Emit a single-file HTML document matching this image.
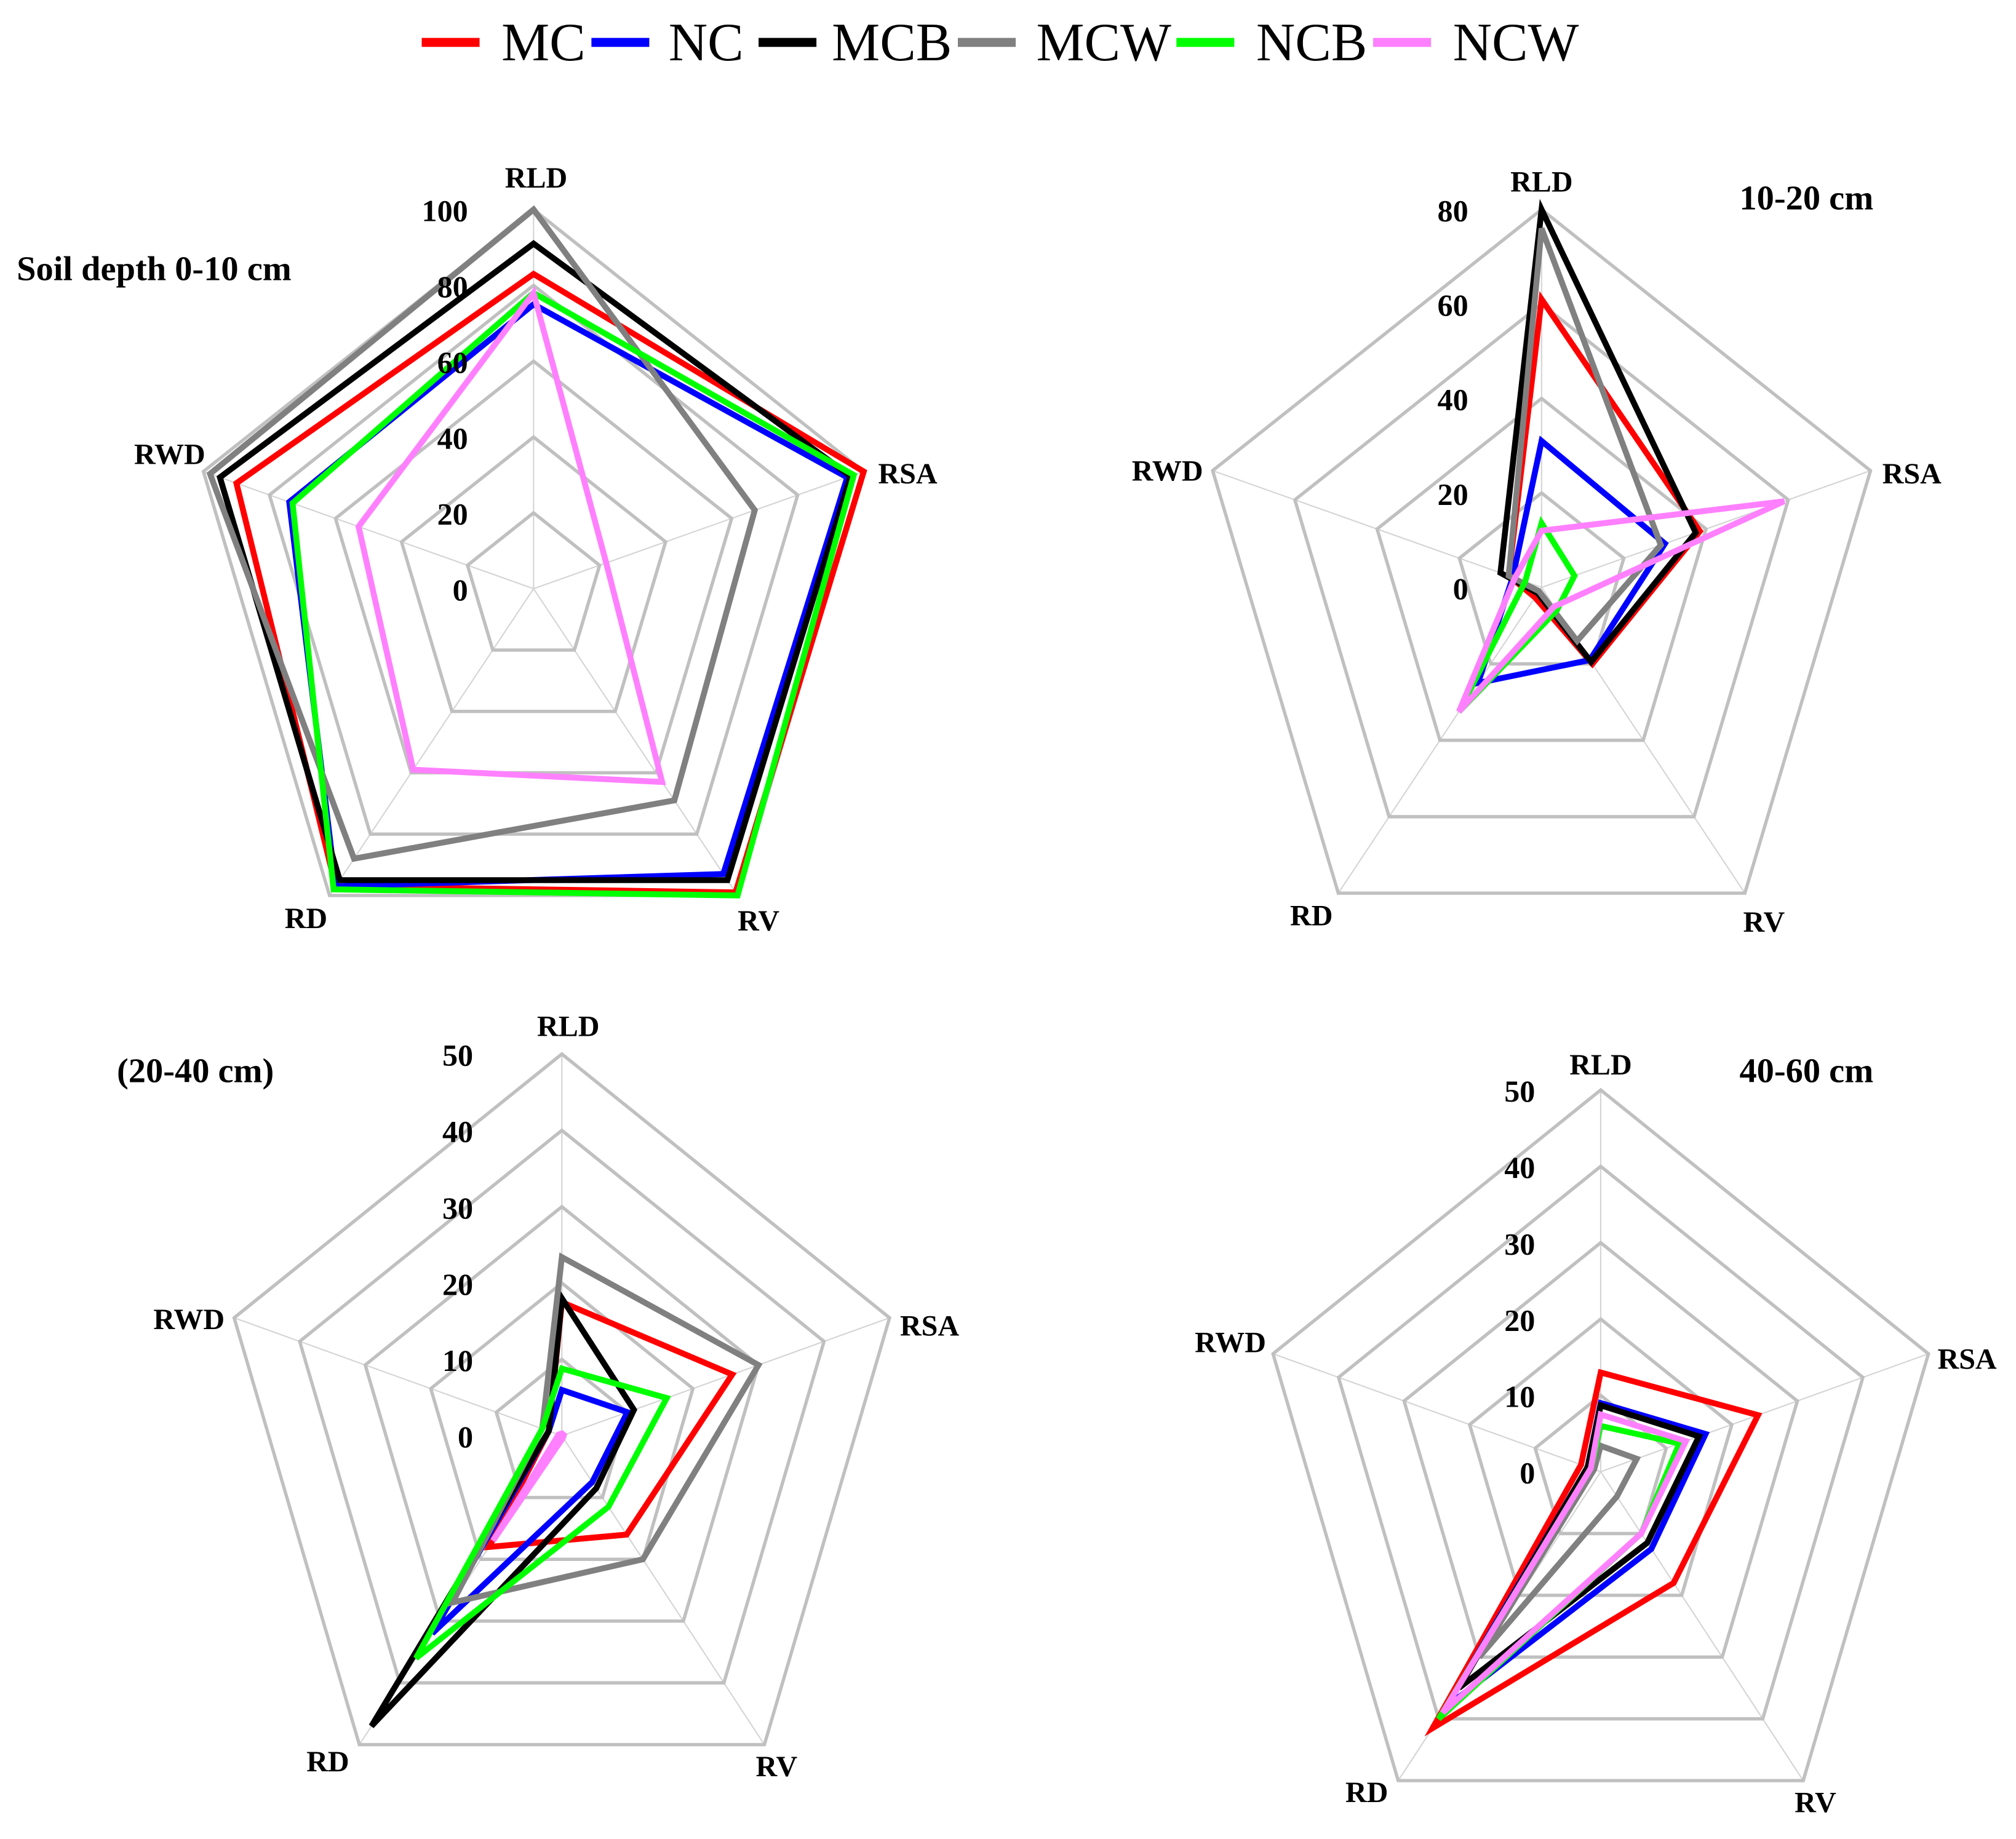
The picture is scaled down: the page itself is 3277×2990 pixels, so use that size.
<!DOCTYPE html>
<html><head><meta charset="utf-8">
<style>
html,body{margin:0;padding:0;background:#fff;}
svg{display:block;}
text{font-family:"Liberation Serif","Times New Roman",serif;}
</style></head>
<body>
<svg id="fig" width="3277" height="2990" viewBox="0 0 1568 1430.7" preserveAspectRatio="none" xmlns="http://www.w3.org/2000/svg">
<g id="legend"></g>
<g id="charts"></g>
</svg>
<script>
const axes = ["RLD","RSA","RV","RD","RWD"];
const seriesNames = ["MC","NC","MCB","MCW","NCB","NCW"];
const seriesColors = ["#ff0000","#0000ff","#000000","#808080","#00ff00","#ff80ff"];
// Soil depth 0-10 cm  (RLD, RSA, RV, RD, RWD)
const d1_MC  = [83, 100, 99, 97, 90];
const d1_NC  = [75, 95, 93, 97, 74];
const d1_MCB = [91, 96, 95, 95, 95];
const d1_MCW = [100, 67, 69, 88, 98];
const d1_NCB = [78, 97, 100, 98, 73];
const d1_NCW = [78, 22, 63, 59, 53];
// 10-20 cm
const d2_MC  = [61, 38.5, 20, 2.6, 8];
const d2_NC  = [31, 30, 19, 25, 7];
const d2_MCB = [80, 37.5, 19.5, 1.5, 10];
const d2_MCW = [76, 29, 14, 1, 8];
const d2_NCB = [13.6, 8, 6, 32.5, 4];
const d2_NCW = [12, 59, 5, 32.5, 6.5];
// 20-40 cm
const d3_MC  = [17.5, 26, 16, 18, 2];
const d3_NC  = [6, 10, 7.5, 32, 2];
const d3_MCB = [18, 11, 8.5, 47, 2];
const d3_MCW = [23.4, 30, 20, 27, 3];
const d3_NCB = [8.8, 16, 11.5, 36, 3];
const d3_NCW = [0.3, 0.3, 0.3, 17, 0.5];
// 40-60 cm
const d4_MC  = [13, 24, 18, 41.5, 3];
const d4_NC  = [9, 16, 12.5, 38, 2];
const d4_MCB = [8.7, 15, 11.5, 35, 2];
const d4_MCW = [3.4, 5.5, 4, 30, 1];
const d4_NCB = [6, 12, 10, 40, 1.5];
const d4_NCW = [7.5, 13, 10, 39, 1.5];
const ticks1 = ["0","20","40","60","80","100"];
const ticks2 = ["0","20","40","60","80"];
const ticks3 = ["0","10","20","30","40","50"];
const ticks4 = ["0","10","20","30","40","50"];

const NS = "http://www.w3.org/2000/svg";
function mk(tag, attrs, parent){ const e=document.createElementNS(NS,tag); for(const k in attrs) e.setAttribute(k,attrs[k]); if(parent) parent.appendChild(e); return e; }

const lg = document.getElementById('legend');
const legX = [328,460,590,745,915,1068];
const legTX = [390,520,647,806,977,1130];
seriesNames.forEach((n,i)=>{
  const ln = mk('line',{x1:legX[i],y1:33,x2:legX[i]+45,y2:33,stroke:seriesColors[i],'stroke-width':7},lg);
  
  
  const t = mk('text',{x:legTX[i],y:47,'font-size':42},lg);
  t.textContent = n;
  
  
});

const charts = [
 {cx:415,cy:458,rx:270,ry:295,max:100,ticks:ticks1,data:[d1_MC,d1_NC,d1_MCB,d1_MCW,d1_NCB,d1_NCW],
  title:"Soil depth 0-10 cm",tx:13,ty:218,tanchor:"start",tickX:364,
  lab:[[417,146],[706,376],[590,724],[238,722],[132,361]], rings:[20,40,60,80,100]},
 {cx:1199,cy:457,rx:269,ry:294,max:80,ticks:ticks2,data:[d2_MC,d2_NC,d2_MCB,d2_MCW,d2_NCB,d2_NCW],
  title:"10-20 cm",tx:1405,ty:163,tanchor:"middle",tickX:1142,
  lab:[[1199,149],[1487,376],[1372,725],[1020,720],[908,374]], rings:[20,40,60,80]},
 {cx:437,cy:1117,rx:268,ry:297,max:50,ticks:ticks3,data:[d3_MC,d3_NC,d3_MCB,d3_MCW,d3_NCB,d3_NCW],
  title:"(20-40 cm)",tx:152,ty:842,tanchor:"middle",tickX:368,
  lab:[[442,806],[723,1039],[604,1382],[255,1378],[147,1034]], rings:[10,20,30,40,50]},
 {cx:1245,cy:1145,rx:268,ry:297,max:50,ticks:ticks4,data:[d4_MC,d4_NC,d4_MCB,d4_MCW,d4_NCB,d4_NCW],
  title:"40-60 cm",tx:1405,ty:842,tanchor:"middle",tickX:1194,
  lab:[[1245,836],[1530,1065],[1412,1410],[1063,1402],[957,1052]], rings:[10,20,30,40,50]}
];
const angs = [0,72,144,216,288].map(a=>a*Math.PI/180);
function pt(c,i,v){ const s=v/c.max; return [c.cx+Math.sin(angs[i])*c.rx*s, c.cy-Math.cos(angs[i])*c.ry*s]; }

const root = document.getElementById('charts');
charts.forEach((c,ci)=>{
  const g = mk('g',{},root);
  
  
  axes.forEach((a,i)=>{
    const p = pt(c,i,c.max);
    const sp = mk('line',{x1:c.cx,y1:c.cy,x2:p[0],y2:p[1],stroke:'#d4d4d4','stroke-width':1},g);
    
    
  });
  c.rings.forEach(r=>{
    const pts = axes.map((a,i)=>pt(c,i,r).join(',')).join(' ');
    const rg = mk('polygon',{points:pts,fill:'none',stroke:'#c0c0c0','stroke-width':2.6},g);
    
    
  });
  c.data.forEach((vals,si)=>{
    const pts = vals.map((v,i)=>pt(c,i,v).join(',')).join(' ');
    const pl = mk('polygon',{points:pts,fill:'none',stroke:seriesColors[si],'stroke-width':4.6,'stroke-linejoin':'miter'},g);
    
    
  });
  c.ticks.forEach((t,ti)=>{
    const v = ti*c.max/(c.ticks.length-1);
    const y = c.cy - c.ry*v/c.max + 9;
    const tx = mk('text',{x:c.tickX,y:y,'font-size':24,'font-weight':'bold','text-anchor':'end'},g);
    tx.textContent = t;
    
    
  });
  axes.forEach((a,i)=>{
    const tx = mk('text',{x:c.lab[i][0],y:c.lab[i][1],'font-size':23,'font-weight':'bold','text-anchor':'middle'},g);
    tx.textContent = a;
    
    
  });
  const tt = mk('text',{x:c.tx,y:c.ty,'font-size':27,'font-weight':'bold','text-anchor':c.tanchor},g);
  tt.textContent = c.title;
  
  
});
</script>
</body></html>
